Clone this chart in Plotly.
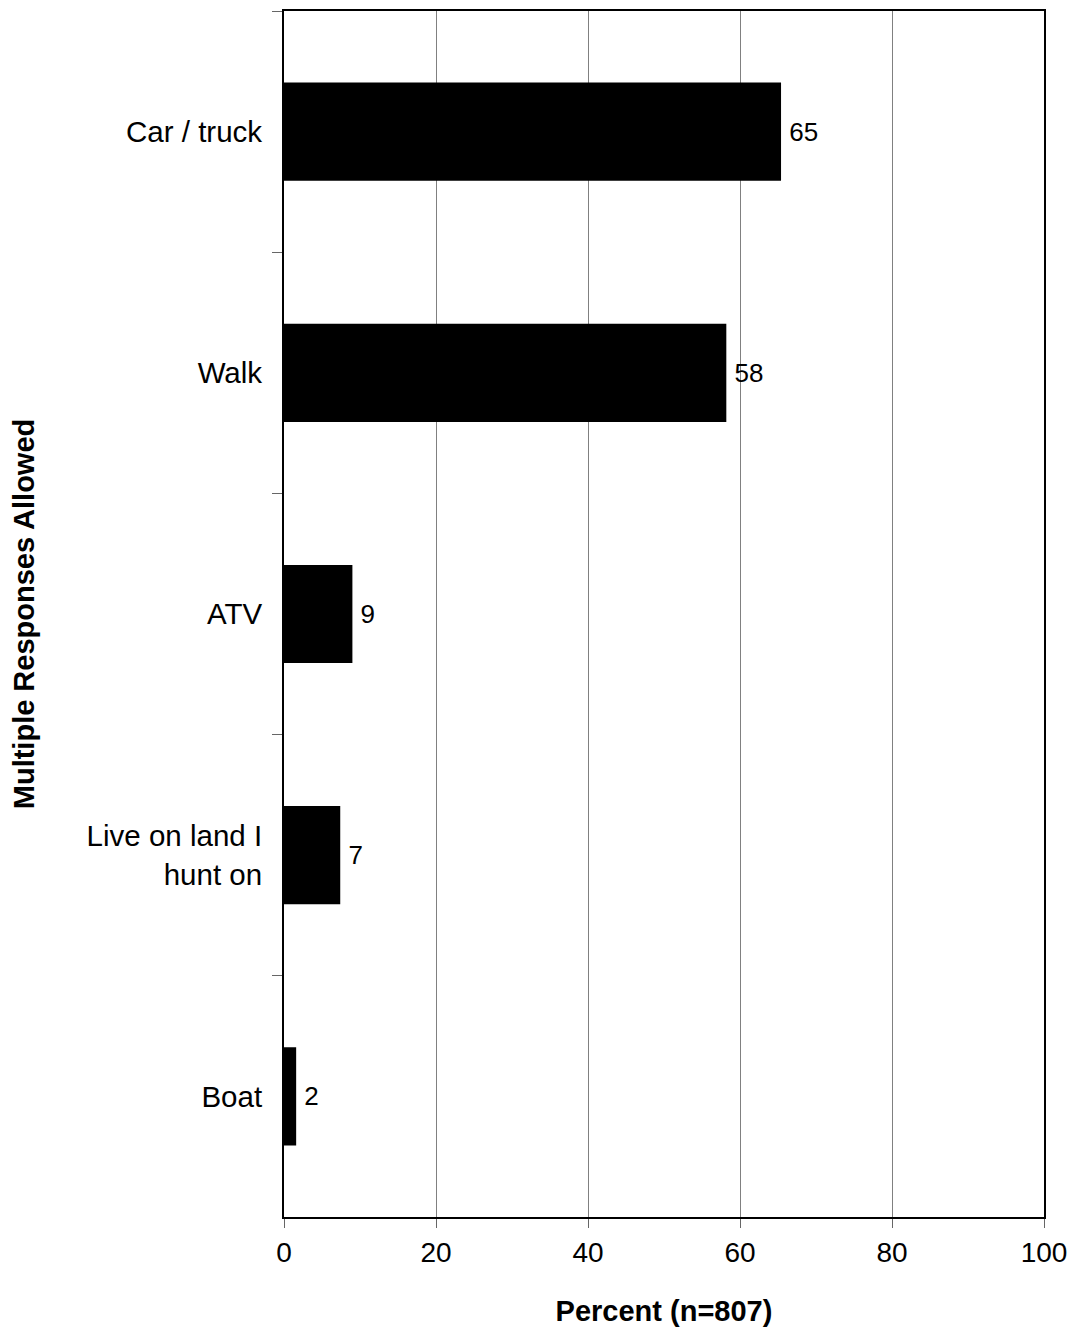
import plotly.graph_objects as go

categories = ["Car / truck", "Walk", "ATV", "Live on land I<br>hunt on", "Boat"]
values = [65.4, 58.2, 9.0, 7.4, 1.6]
value_labels = ["65", "58", "9", "7", "2"]
x_ticks = [0, 20, 40, 60, 80, 100]

FONT = "Liberation Sans, Arial, sans-serif"

fig = go.Figure()
fig.add_trace(go.Bar(
    y=categories,
    x=values,
    orientation="h",
    width=0.407,
    marker=dict(color="black", line=dict(width=0)),
    text=value_labels,
    texttemplate="\u2009%{text}",
    textposition="outside",
    cliponaxis=False,
    textfont=dict(family=FONT, size=26, color="black"),
))

# page body has an 8px margin; compensate so the plot area lands at the reference position
fig.update_layout(
    width=1067,
    height=1322,
    margin=dict(l=276, r=31, t=1, b=113),
    paper_bgcolor="white",
    plot_bgcolor="white",
    showlegend=False,
    font=dict(family=FONT, size=29, color="black"),
)

fig.update_xaxes(
    range=[0, 100],
    tickvals=x_ticks,
    ticktext=[str(v) for v in x_ticks],
    showgrid=True,
    gridcolor="#808080",
    gridwidth=1,
    zeroline=False,
    showline=True,
    linecolor="black",
    linewidth=2,
    mirror=True,
    ticks="outside",
    ticklen=9,
    tickcolor="#666666",
    ticklabelstandoff=0,
    tickfont=dict(family=FONT, size=28, color="black"),
    title=dict(text="<b>Percent (n=807)</b>", font=dict(family=FONT, size=29, color="black"), standoff=34),
)

fig.update_yaxes(
    type="category",
    categoryorder="array",
    categoryarray=categories,
    autorange="reversed",
    tickson="boundaries",
    ticks="outside",
    ticklen=10,
    tickcolor="#666666",
    ticklabelstandoff=14,
    showgrid=False,
    showline=True,
    linecolor="black",
    linewidth=2,
    mirror=True,
    tickfont=dict(family=FONT, size=29.5, color="black"),
    title=dict(text="<b>Multiple Responses Allowed</b>", font=dict(family=FONT, size=29, color="black"), standoff=50),
)

fig.write_html("out.html")
